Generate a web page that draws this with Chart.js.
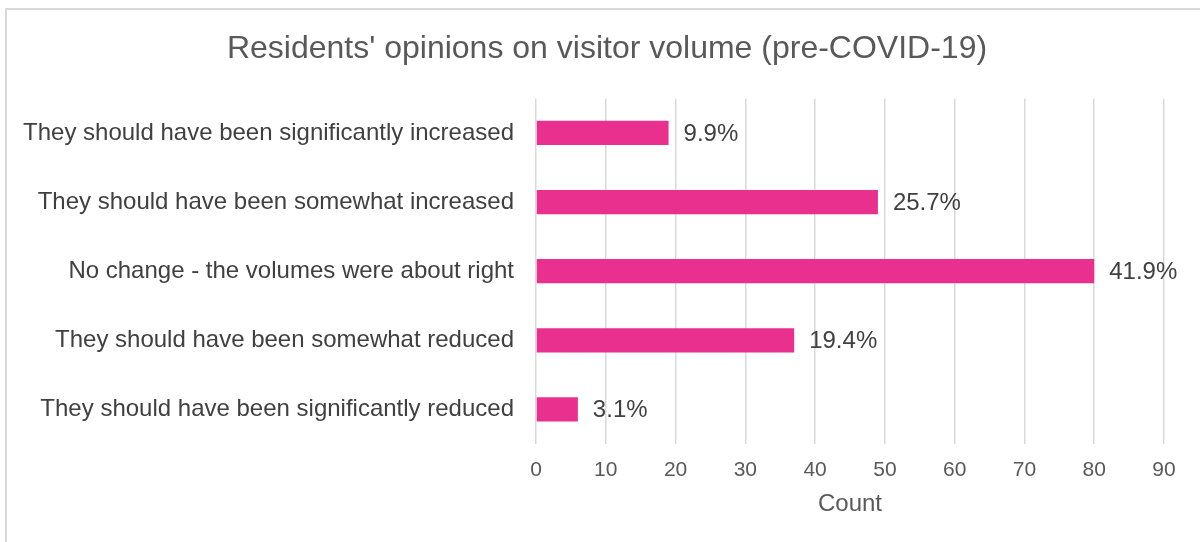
<!DOCTYPE html>
<html>
<head>
<meta charset="utf-8">
<script src="https://cdn.jsdelivr.net/npm/chart.js@4/dist/chart.umd.min.js"></script>
<style>
    body { margin: 0; background: #fff; overflow: hidden; }
    .frame { position: absolute; left: 5px; top: 8px; width: 1210px; height: 560px; border: 2px solid #d9d9d9; box-sizing: border-box; }
    .wrap { position: absolute; left: 0; top: 0; width: 1200px; height: 542px; }
</style>
</head>
<body>
<div class="frame"></div>
<div class="wrap"><canvas id="myChart" width="1200" height="542"></canvas></div>
<script>
const categories = [
    'They should have been significantly increased',
    'They should have been somewhat increased',
    'No change - the volumes were about right',
    'They should have been somewhat reduced',
    'They should have been significantly reduced'
];
const counts = [19, 49, 80, 37, 6];
const xTicks = [0, 10, 20, 30, 40, 50, 60, 70, 80, 90];

const total = counts.reduce((a, b) => a + b, 0);

// percent labels at the end of each bar
const barLabels = {
    id: 'barLabels',
    afterDatasetsDraw(chart) {
        const ctx = chart.ctx;
        const meta = chart.getDatasetMeta(0);
        ctx.save();
        ctx.font = '24px "Liberation Sans", Arial, sans-serif';
        ctx.fillStyle = '#404040';
        ctx.textAlign = 'left';
        ctx.textBaseline = 'middle';
        meta.data.forEach(function (bar, i) {
            const pct = (counts[i] / total * 100).toFixed(1) + '%';
            ctx.fillText(pct, bar.x + 15, bar.y + 1);
        });
        ctx.restore();
    }
};

// nudge the title a little to the right of the canvas centre
const titleShift = {
    id: 'titleShift',
    afterLayout(chart) {
        if (chart.titleBlock) {
            chart.titleBlock.left += 17;
            chart.titleBlock.right += 17;
        }
    }
};

Chart.defaults.font.family = '"Liberation Sans", Arial, sans-serif';
Chart.defaults.animation = false;

new Chart(document.getElementById('myChart'), {
    type: 'bar',
    data: {
        labels: categories,
        datasets: [{
            data: counts,
            backgroundColor: '#e9308f',
            barPercentage: 0.35,
            categoryPercentage: 1
        }]
    },
    options: {
        indexAxis: 'y',
        responsive: false,
        layout: { padding: { left: 16, right: 36, top: 0, bottom: 23 } },
        plugins: {
            legend: { display: false },
            tooltip: { enabled: false },
            title: {
                display: true,
                text: "Residents' opinions on visitor volume (pre-COVID-19)",
                color: '#595959',
                font: { size: 32, weight: 'normal' },
                padding: { top: 30, bottom: 30 }
            }
        },
        scales: {
            x: {
                min: 0,
                max: 90,
                afterBuildTicks(scale) { scale.ticks = xTicks.map(v => ({ value: v })); },
                afterFit(scale) { scale.height = 75; },
                grid: { color: '#d9d9d9', lineWidth: 1.5, drawTicks: false },
                border: { display: false },
                ticks: { color: '#595959', font: { size: 21 }, padding: 14 },
                title: {
                    display: true,
                    text: 'Count',
                    color: '#595959',
                    font: { size: 24 },
                    padding: { top: 7, bottom: 0 }
                }
            },
            y: {
                afterFit(scale) { scale.width = 520; },
                grid: { display: false, drawTicks: false },
                border: { display: false },
                ticks: { color: '#404040', font: { size: 24 }, padding: 22 }
            }
        }
    },
    plugins: [barLabels, titleShift]
});
</script>
</body>
</html>
